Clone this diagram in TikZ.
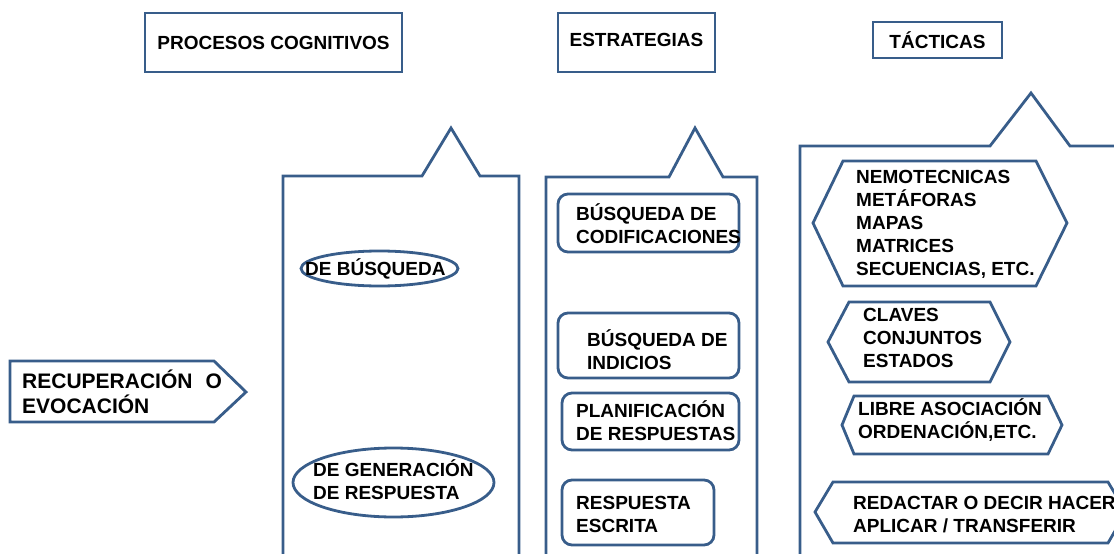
\documentclass[tikz,border=0pt]{standalone}
\usepackage{fontspec}
\setmainfont{Liberation Sans}
\usepackage{tikz}
\definecolor{steel blue}{RGB}{56,93,138}
\tikzset{
	outline/.style = {draw=steel blue, line width=2.8pt, line join=miter},
	rounded box/.style = {outline, rounded corners=10pt},
	label text/.style = {font=\fontsize{19}{23}\selectfont\bfseries, align=left, inner sep=0pt, anchor=west, text=black},
	head box/.style = {outline, font=\fontsize{19}{23}\selectfont\bfseries, inner sep=0pt, text=black}
}

\begin{document}
\begin{tikzpicture}[x=1pt, y=-1pt]
			\useasboundingbox (0,0) rectangle (1114,554);
			\clip (0,0) rectangle (1114,554);
			% headers
			\node[head box, minimum width=257pt, minimum height=59pt] (procesos) at (273.5,42.5) {PROCESOS COGNITIVOS};
			\node[head box, minimum width=157pt, minimum height=59pt, text depth=6pt] (estrategias) at (636.5,42.5) {ESTRATEGIAS};
			\node[head box, minimum width=129pt, minimum height=36pt] (tacticas) at (937.5,40) {TÁCTICAS};
			% arrow for recuperacion
			\draw[outline] (10,361) -- (214,361) -- (246,392) -- (214,422) -- (10,422) -- cycle;
			\node[label text, font=\fontsize{21}{25}\selectfont\bfseries] (recuperacion) at (22,392)
				{RECUPERACIÓN\hspace{13pt}O\\EVOCACIÓN};
			% column for procesos cognitivos
			\draw[outline] (283,570) -- (283,176) -- (422,176) -- (451,128) -- (480,176) -- (519,176) -- (519,570);
			\draw[outline] (379.5,268.5) ellipse (78.5 and 17.5);
			\node[label text] (busqueda) at (305,268.5) {DE BÚSQUEDA};
			\draw[outline] (393.5,482.5) ellipse (100.5 and 34.5);
			\node[label text] (generacion) at (313,480) {DE GENERACIÓN\\DE RESPUESTA};
			% column for estrategias
			\draw[outline] (546,570) -- (546,177) -- (669,177) -- (695,128) -- (723,177) -- (757,177) -- (757,570);
			\draw[rounded box] (558,194) rectangle (739,252);
			\node[label text] (codificaciones) at (576,223.5) {BÚSQUEDA DE\\CODIFICACIONES};
			\draw[rounded box] (558,313) rectangle (739,378);
			\node[label text] (indicios) at (587,349.5) {BÚSQUEDA DE\\INDICIOS};
			\draw[rounded box] (562,393) rectangle (739,450);
			\node[label text] (planificacion) at (576,421) {PLANIFICACIÓN\\DE RESPUESTAS};
			\draw[rounded box] (562,480) rectangle (714,545);
			\node[label text] (escrita) at (576,514) {RESPUESTA\\ESCRITA};
			% column for tacticas
			\draw[outline] (800,570) -- (800,146) -- (990,146) -- (1031,93) -- (1070,146) -- (1130,146);
			\draw[outline] (813,223) -- (843,161) -- (1036,161) -- (1067,223) -- (1036,286) -- (843,286) -- cycle;
			\node[label text] (nemotecnicas) at (856,224.5)
				{NEMOTECNICAS\\METÁFORAS\\MAPAS\\MATRICES\\SECUENCIAS, ETC.};
			\draw[outline] (828,342) -- (849,302) -- (990,302) -- (1010,342) -- (990,382) -- (849,382) -- cycle;
			\node[label text] (claves) at (863,338) {CLAVES\\CONJUNTOS\\ESTADOS};
			\draw[outline] (842,425) -- (854,396) -- (1048,396) -- (1062,425) -- (1048,454) -- (854,454) -- cycle;
			\node[label text] (libre) at (858,420.5) {LIBRE ASOCIACIÓN\\ORDENACIÓN,ETC.};
			\draw[outline] (815,512) -- (833,482) -- (1108,482) -- (1126,512) -- (1108,543) -- (833,543) -- cycle;
			\node[label text] (redactar) at (853,514.5) {REDACTAR O DECIR HACER\\APLICAR / TRANSFERIR};
		\end{tikzpicture}
\end{document}
